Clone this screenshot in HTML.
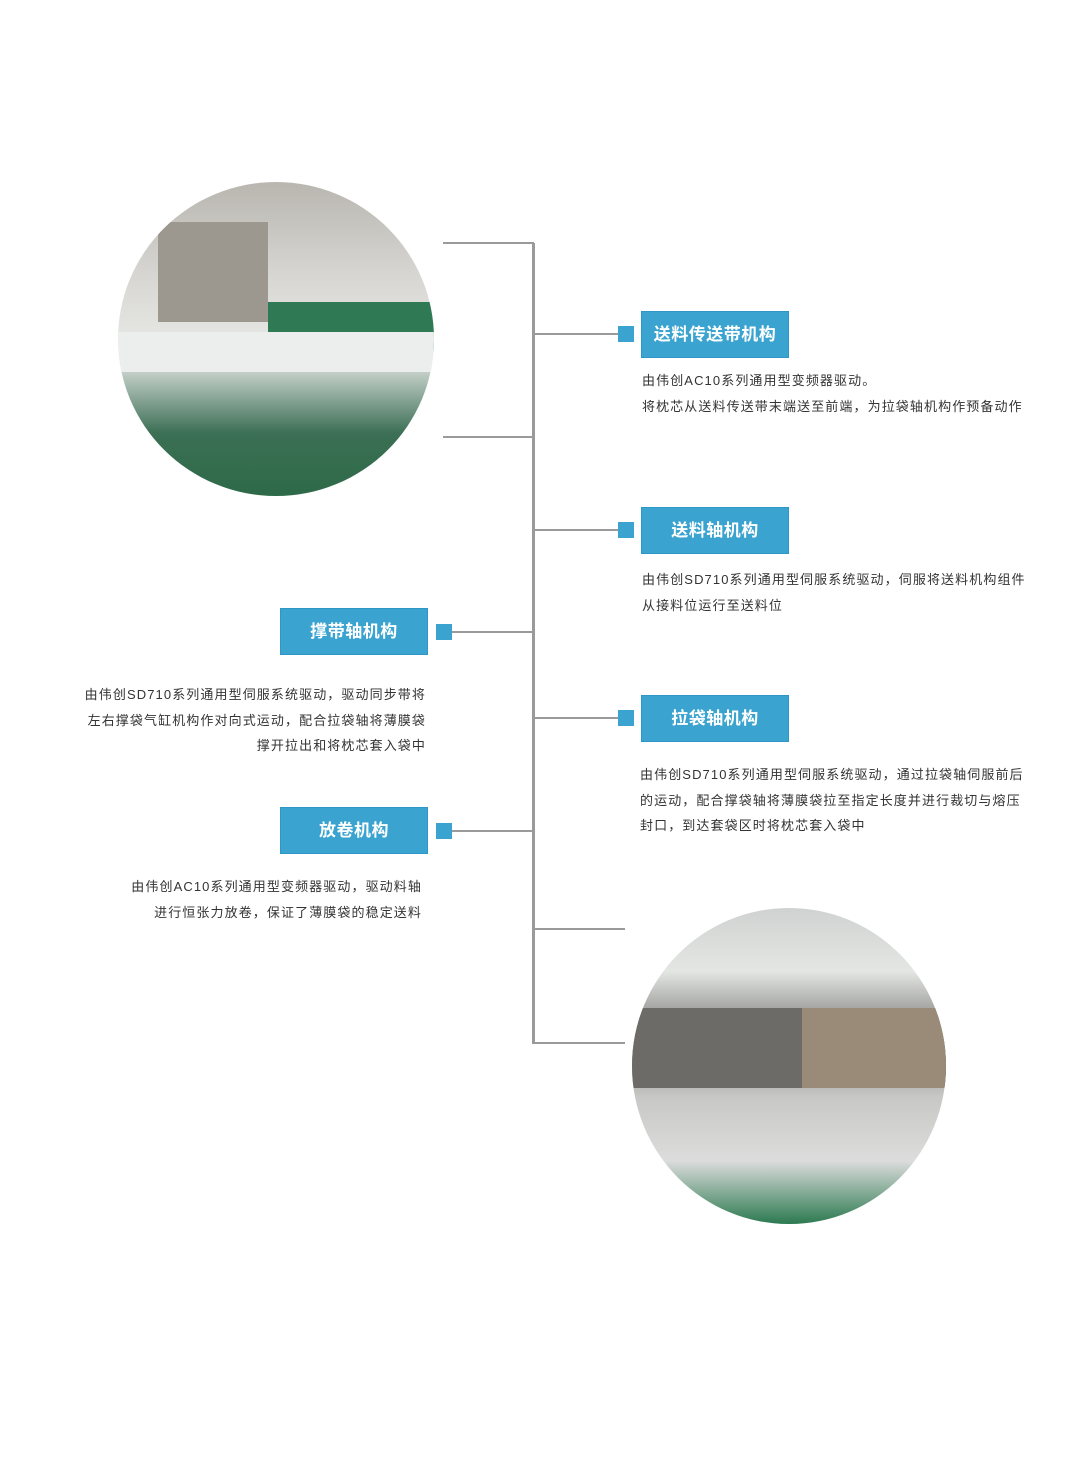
<!DOCTYPE html>
<html><head><meta charset="utf-8"><style>
body{margin:0;width:1080px;height:1466px;background:#fff;position:relative;font-family:"Liberation Sans","Noto Sans CJK SC",sans-serif;overflow:hidden}
.a{position:absolute}
.l{position:absolute;background:#9a9a9a}
.sq{position:absolute;width:16px;height:16px;background:#3aa3cf}
.btn{position:absolute;width:148px;height:47px;background:#3aa3cf;border:1px solid #2d98c8;color:#fff;font-size:17px;font-weight:bold;text-align:center;line-height:45px;box-sizing:border-box;letter-spacing:0.5px}
.t{position:absolute;font-size:13px;letter-spacing:1.1px;color:#333;line-height:25.5px;white-space:nowrap}
.c{position:absolute;border-radius:50%;overflow:hidden}
</style></head><body>
<div class="c" style="left:118px;top:182px;width:316px;height:314px;background:linear-gradient(180deg,#b9b6b0 0%,#d7d6d2 30%,#e9eae8 55%,#3c6f55 80%,#2d6a48 100%)">
<div class="a" style="left:40px;top:40px;width:110px;height:100px;background:#9c9890"></div>
<div class="a" style="left:150px;top:120px;width:170px;height:50px;background:#2f7a55"></div>
<div class="a" style="left:0;top:150px;width:316px;height:40px;background:#eceeee"></div>
</div>
<div class="c" style="left:632px;top:908px;width:314px;height:316px;background:linear-gradient(180deg,#cfd2d0 0%,#e4e6e4 20%,#7a7a78 40%,#c8c8c6 60%,#dcdcdc 80%,#2c7a50 100%)">
<div class="a" style="left:0;top:100px;width:314px;height:80px;background:#6c6b68"></div>
<div class="a" style="left:170px;top:100px;width:144px;height:80px;background:#9a8a78"></div>
</div>
<div class="l" style="left:532px;top:243px;width:3px;height:801px"></div>
<div class="l" style="left:443px;top:242px;width:91px;height:2px"></div>
<div class="l" style="left:443px;top:436px;width:91px;height:2px"></div>
<div class="l" style="left:533px;top:333px;width:86px;height:2px"></div>
<div class="l" style="left:533px;top:529px;width:86px;height:2px"></div>
<div class="l" style="left:533px;top:717px;width:86px;height:2px"></div>
<div class="l" style="left:450px;top:631px;width:84px;height:2px"></div>
<div class="l" style="left:450px;top:830px;width:84px;height:2px"></div>
<div class="l" style="left:533px;top:928px;width:92px;height:2px"></div>
<div class="l" style="left:533px;top:1042px;width:92px;height:2px"></div>
<div class="sq" style="left:618px;top:326px"></div>
<div class="sq" style="left:618px;top:522px"></div>
<div class="sq" style="left:618px;top:710px"></div>
<div class="sq" style="left:436px;top:624px"></div>
<div class="sq" style="left:436px;top:823px"></div>
<div class="btn" style="left:641px;top:311px">送料传送带机构</div>
<div class="btn" style="left:641px;top:507px">送料轴机构</div>
<div class="btn" style="left:641px;top:695px">拉袋轴机构</div>
<div class="btn" style="left:280px;top:608px">撑带轴机构</div>
<div class="btn" style="left:280px;top:807px">放卷机构</div>
<div class="t" style="left:642px;top:368px">由伟创AC10系列通用型变频器驱动。<br>将枕芯从送料传送带末端送至前端，为拉袋轴机构作预备动作</div>
<div class="t" style="left:642px;top:567px">由伟创SD710系列通用型伺服系统驱动，伺服将送料机构组件<br>从接料位运行至送料位</div>
<div class="t" style="left:640px;top:762px">由伟创SD710系列通用型伺服系统驱动，通过拉袋轴伺服前后<br>的运动，配合撑袋轴将薄膜袋拉至指定长度并进行裁切与熔压<br>封口，到达套袋区时将枕芯套入袋中</div>
<div class="t" style="right:654px;top:682px;text-align:right">由伟创SD710系列通用型伺服系统驱动，驱动同步带将<br>左右撑袋气缸机构作对向式运动，配合拉袋轴将薄膜袋<br>撑开拉出和将枕芯套入袋中</div>
<div class="t" style="right:658px;top:874px;text-align:right">由伟创AC10系列通用型变频器驱动，驱动料轴<br>进行恒张力放卷，保证了薄膜袋的稳定送料</div>
</body></html>
